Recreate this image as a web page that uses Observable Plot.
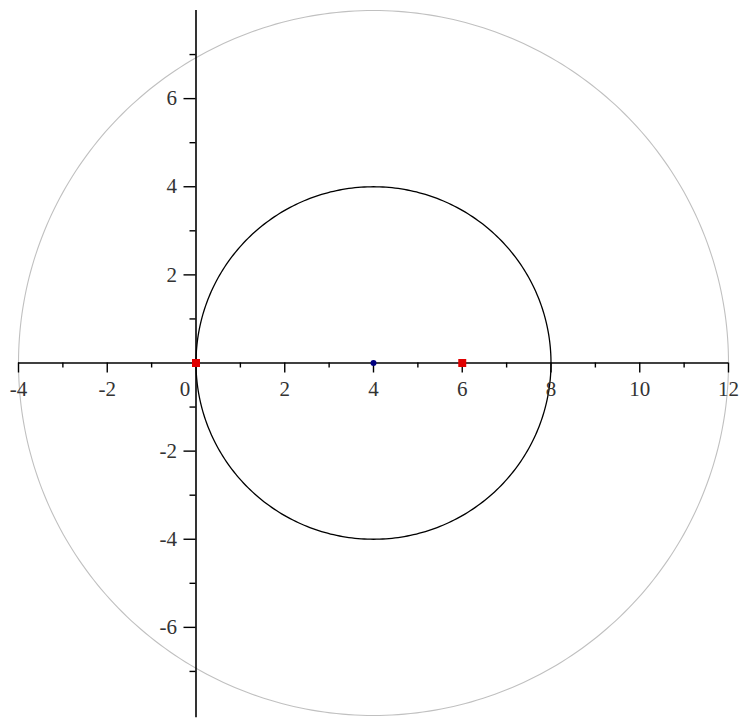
<!DOCTYPE html>
<html>
<head>
<meta charset="utf-8">
<script src="https://cdn.jsdelivr.net/npm/d3@7"></script>
<script src="https://cdn.jsdelivr.net/npm/@observablehq/plot@0.6"></script>
<style>
  html, body { margin: 0; padding: 0; background: #fff; }
  #chart svg { display: block; }
</style>
</head>
<body>
<div id="chart"></div>
<script>
// Circles: center x, center y, radius
const circleNames = ["inner", "outer"];
const circleCx = [4, 4];
const circleCy = [0, 0];
const circleR = [4, 8];
const circleColors = ["#000000", "#c0c0c0"];

// Points
const redPointsX = [0, 6];
const redPointsY = [0, 0];
const bluePointsX = [4];
const bluePointsY = [0];

// Axis ticks
const xMajorTicks = [-4, -2, 2, 4, 6, 8, 10, 12];
const xMinorTicks = [-3, -1, 1, 3, 5, 7, 9, 11];
const yMajorTicks = [-6, -4, -2, 2, 4, 6];
const yMinorTicks = [-7, -5, -3, -1, 1, 3, 5, 7];
const xLabels = ["-4", "-2", "2", "4", "6", "8", "10", "12"];
const yLabels = ["-6", "-4", "-2", "2", "4", "6"];
const originLabel = ["0"];

// Build circle outlines (geometric curves from center/radius)
const angles = d3.range(0, 361, 1);
const circlePts = [];
circleNames.forEach((name, i) => {
  angles.forEach(a => {
    const t = a * Math.PI / 180;
    circlePts.push({name, x: circleCx[i] + circleR[i] * Math.cos(t), y: circleCy[i] + circleR[i] * Math.sin(t)});
  });
});

const font = "Liberation Serif, Times New Roman, serif";

const chart = Plot.plot({
  width: 742,
  height: 720,
  marginTop: 0, marginBottom: 0, marginLeft: 0, marginRight: 0,
  x: {domain: [-4, 12], range: [18, 728], axis: null},
  y: {domain: [-8, 8], range: [715, 10], axis: null},
  style: {fontFamily: font, background: "#fff"},
  marks: [
    // outer gray circle
    Plot.line(circlePts.filter(d => d.name === "outer"), {x: "x", y: "y", stroke: circleColors[1], strokeWidth: 1.1, curve: "linear"}),
    // x axis line
    Plot.ruleY([0], {x1: -4, x2: 12, stroke: "#000", strokeWidth: 1.6}),
    // y axis line
    Plot.ruleX([0], {y1: -8.05, y2: 8, stroke: "#000", strokeWidth: 1.6}),
    // x ticks
    Plot.ruleX(xMajorTicks, {x: d => d, y1: 0, y2: 0, insetBottom: -10, stroke: "#000", strokeWidth: 1.4}),
    Plot.ruleX(xMinorTicks, {x: d => d, y1: 0, y2: 0, insetBottom: -5, stroke: "#000", strokeWidth: 1.4}),
    // y ticks
    Plot.ruleY(yMajorTicks, {y: d => d, x1: 0, x2: 0, insetLeft: -12, stroke: "#000", strokeWidth: 1.4}),
    Plot.ruleY(yMinorTicks, {y: d => d, x1: 0, x2: 0, insetLeft: -6, stroke: "#000", strokeWidth: 1.4}),
    // inner black circle
    Plot.line(circlePts.filter(d => d.name === "inner"), {x: "x", y: "y", stroke: circleColors[0], strokeWidth: 1.3, curve: "linear"}),
    // x labels
    Plot.text(xMajorTicks, {x: d => d, y: 0, text: (d, i) => xLabels[i], dy: 26, fontSize: 21, fill: "#333", fontFamily: font}),
    Plot.text(originLabel, {x: 0, y: 0, text: d => d, dy: 26, dx: -11, fontSize: 21, fill: "#333", fontFamily: font}),
    // y labels
    Plot.text(yMajorTicks, {x: 0, y: d => d, text: (d, i) => yLabels[i], dx: -19, textAnchor: "end", fontSize: 21, fill: "#333", fontFamily: font}),
    // points
    Plot.dot(redPointsX.map((x, i) => ({x, y: redPointsY[i]})), {x: "x", y: "y", symbol: "square", r: 4.5, fill: "#e00000", stroke: "none"}),
    Plot.dot(bluePointsX.map((x, i) => ({x, y: bluePointsY[i]})), {x: "x", y: "y", r: 3, fill: "#000080", stroke: "none"})
  ]
});
document.getElementById("chart").appendChild(chart);
</script>
</body>
</html>
